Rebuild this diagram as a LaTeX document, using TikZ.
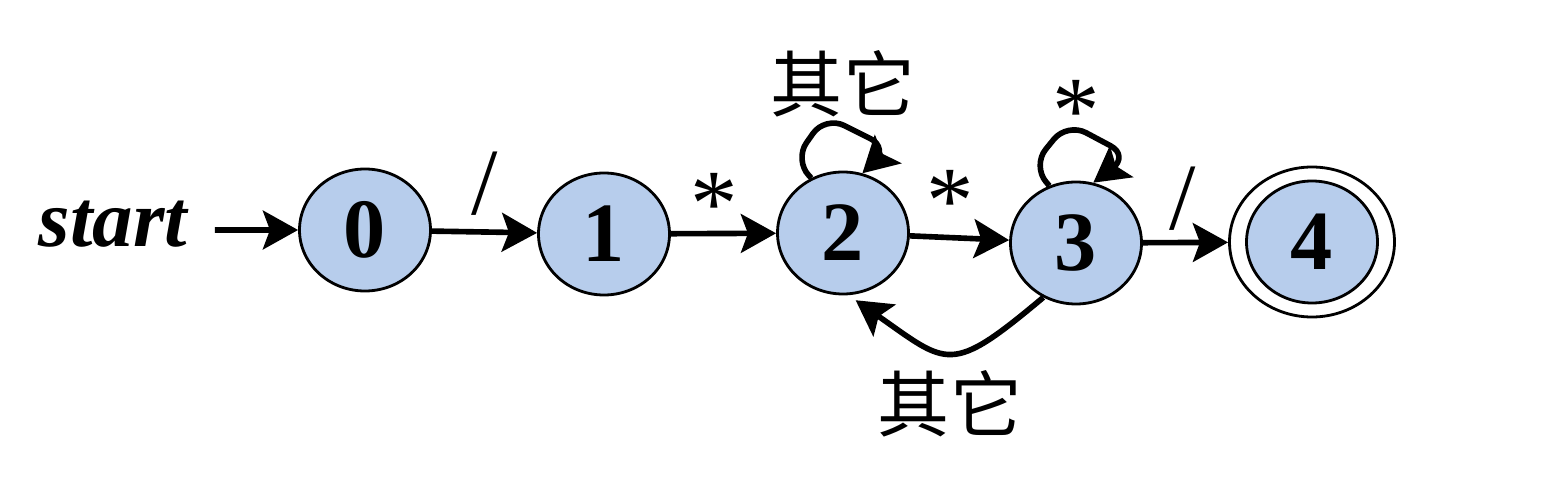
\documentclass[tikz,border=0pt]{standalone}
\usepackage{fontspec}
\setmainfont{Liberation Serif}
\newfontfamily\cjkfont{Noto Sans CJK SC}
\usetikzlibrary{arrows.meta,shapes.geometric}
\definecolor{stfill}{RGB}{183,205,236}

\begin{document}
\begin{tikzpicture}[scale=0.2]
\tikzstyle{every node}+=[inner sep=0pt]
\tikzstyle{st}=[ellipse,draw=black,line width=1.6pt,fill=stfill,minimum width=2.62cm,minimum height=2.44cm,font=\fontsize{48}{48}\selectfont\bfseries]
\tikzstyle{trans}=[line width=3.2pt,-{Stealth[length=20pt,width=22pt,inset=4pt]}]
\tikzstyle{loopt}=[trans,rounded corners=12pt]
\tikzstyle{lab}=[font=\fontsize{54}{54}\selectfont]
\tikzstyle{cjk}=[font=\cjkfont\fontsize{41}{41}\selectfont]
\useasboundingbox (0,0) rectangle (156.6,-49.6);
\node [font=\fontsize{46}{46}\selectfont\bfseries\itshape] (start) at (11.3,-22.4) {start};
\coordinate (s0) at (21.5,-23.0);
\node [st] (n0) at (36.5,-23.0) {0};
\node [st] (n1) at (60.4,-23.4) {1};
\node [st] (n2) at (84.3,-23.3) {2};
\node [st] (n3) at (107.6,-24.3) {3};
\node [ellipse,draw=black,line width=1.6pt,minimum width=3.3cm,minimum height=3.0cm] (n4o) at (131.2,-24.2) {};
\node [st] (n4) at (131.2,-24.2) {4};
\draw [trans] (s0) -- (n0);
\draw [trans] (n0) -- (n1);
\draw [trans] (n1) -- (n2);
\draw [trans] (n2) -- (n3);
\draw [trans] (n3) -- (n4o);
\draw [loopt] (n2.120) -- ++(-1.7,1.8) -- ++(3.1,4.4) -- ++(6.4,-3.2) -- (n2.72);
\draw [loopt] (n3.115) -- ++(-1.7,2.0) -- ++(3.5,4.3) -- ++(6.2,-3.3) -- (n3.74);
\draw [trans,shorten >=5pt] (n3.239) to [out=-140,in=-35,looseness=1.6] (n2.275);
\node [lab] (l01) at (48.5,-18.4) {/};
\node [lab] (l12) at (71.4,-20.4) {*};
\node [lab] (l23) at (95.0,-20.1) {*};
\node [lab] (l33) at (107.6,-11.1) {*};
\node [lab] (l34) at (118.3,-19.9) {/};
\node [cjk] (l22) at (84.3,-8.4) {其它};
\node [cjk] (l32) at (95.0,-40.4) {其它};
\end{tikzpicture}
\end{document}
